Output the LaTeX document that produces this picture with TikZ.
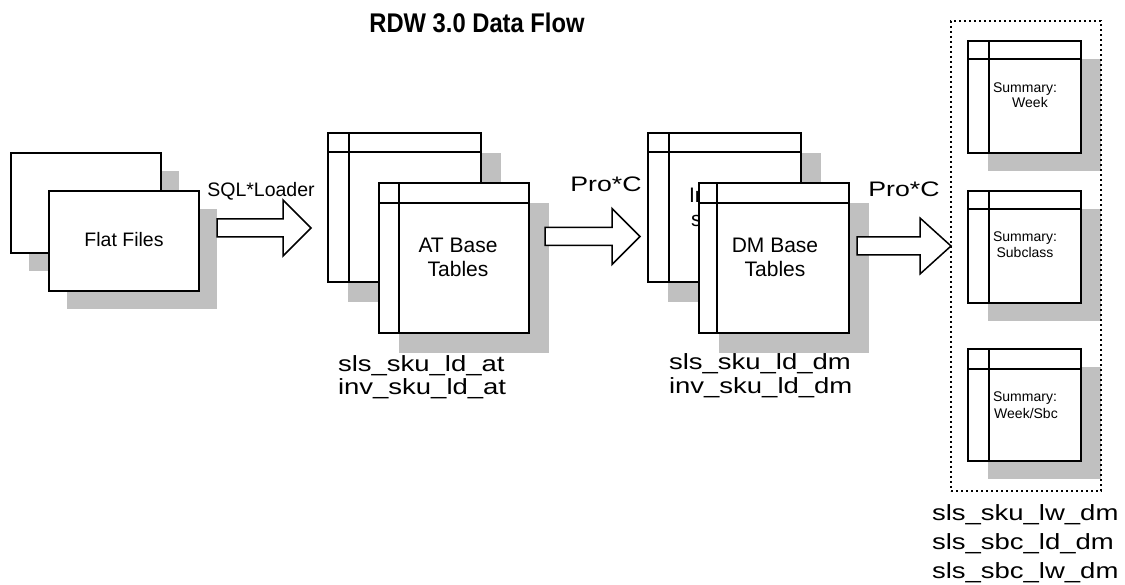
\documentclass[tikz,border=0pt]{standalone}
\usepackage{fontspec}
\setmainfont{Liberation Sans}
\newfontfamily\lblfont[FakeStretch=1.25]{Liberation Sans}
\newfontfamily\procfont[FakeStretch=1.27]{Liberation Sans}
\newfontfamily\ttlfont[FakeStretch=0.88]{Liberation Sans}
\usetikzlibrary{calc}
\definecolor{shadowgray}{HTML}{C0C0C0}
% table: name, x, y, w, h, header offset, vertical offset, shadow dx, shadow dy
\newcommand\dbtable[9]{%
  \fill[shadowgray] (#2+#8,#3+#9) rectangle ++(#4,#5);
  \node[box,minimum width=#4,minimum height=#5,anchor=north west] (#1) at (#2,#3) {};
  \draw[tline] ([yshift=-#6pt]#1.north west) -- ([yshift=-#6pt]#1.north east);
  \draw[tline] ([xshift=#7pt]#1.north west) -- ([xshift=#7pt]#1.south west);
}
% flat file: name, x, y
\newcommand\flatfile[3]{%
  \fill[shadowgray] (#2+18,#3+18) rectangle ++(150,100);
  \node[box,minimum width=150,minimum height=100,anchor=north west] (#1) at (#2,#3) {};
}
% block arrow: tail coordinate, tip coordinate, head length
\newcommand\blkarrow[3]{%
  \draw[blk] ($(#1)+(0,-9)$) -- ($(#2)+(-#3,-9)$) -- ($(#2)+(-#3,-28)$) -- (#2)
    -- ($(#2)+(-#3,28)$) -- ($(#2)+(-#3,9)$) -- ($(#1)+(0,9)$) -- cycle;
}
\begin{document}
\begin{tikzpicture}[x=1pt,y=-1pt,
  box/.style={draw,line width=2pt,fill=white,inner sep=0pt,outer sep=0pt,rectangle},
  tline/.style={line width=2pt},
  blk/.style={draw,line width=1.5pt,fill=white,line join=miter},
  txt/.style={inner sep=0pt,outer sep=0pt,anchor=base},
  lbl/.style={inner sep=0pt,outer sep=0pt,anchor=base west,font=\lblfont\fontsize{22}{24}\selectfont},
  boxtxt/.style={txt,font=\fontsize{21}{24}\selectfont},
  sumtxt/.style={txt,font=\fontsize{14}{16}\selectfont},
  proc/.style={txt,font=\procfont\fontsize{21}{24}\selectfont},
  group/.style={draw,line width=2pt,dash pattern=on 2pt off 3pt}
]
\useasboundingbox (0,0) rectangle (1125,585);

% title
\node[txt,font=\ttlfont\bfseries\fontsize{27}{30}\selectfont] (title) at (477,33) {RDW 3.0 Data Flow};

% flat files
\flatfile{ffback}{11}{153}
\flatfile{fffront}{49}{191}
\node[txt,font=\fontsize{19.5}{22}\selectfont] (fftxt) at (124,247) {Flat Files};

% AT tables
\dbtable{atback}{328}{133}{153}{149}{19}{21}{20}{20}
\dbtable{atfront}{379}{183}{150}{150}{20}{20}{20}{20}
\node[boxtxt] (attxt1) at (458,253) {AT Base};
\node[boxtxt] (attxt2) at (458,277) {Tables};

% DM tables
\dbtable{dmback}{648}{133}{153}{149}{19}{21}{20}{20}
\node[boxtxt,anchor=base west] (dmbtxt1) at (689,203) {In};
\node[boxtxt,anchor=base west] (dmbtxt2) at (691,227) {s};
\dbtable{dmfront}{699}{183}{150}{150}{20}{18}{20}{20}
\node[boxtxt] (dmtxt1) at (775,253) {DM Base};
\node[boxtxt] (dmtxt2) at (775,277) {Tables};

% summary tables
\dbtable{sum1}{968}{41}{113}{112}{18}{21}{20}{18}
\dbtable{sum2}{968}{191}{113}{112}{18}{21}{20}{18}
\dbtable{sum3}{968}{349}{113}{112}{20}{21}{20}{18}
\node[sumtxt] (s1a) at (1025,93) {Summary:};
\node[sumtxt] (s1b) at (1030,108) {Week};
\node[sumtxt] (s2a) at (1025,242) {Summary:};
\node[sumtxt] (s2b) at (1025,258) {Subclass};
\node[sumtxt] (s3a) at (1025,402) {Summary:};
\node[sumtxt] (s3b) at (1026,418) {Week/Sbc};
\node[group,inner sep=0pt,outer sep=0pt,minimum width=150,minimum height=470,anchor=north west] (grp) at (951,21) {};

% arrows
\coordinate (a1t) at (217,228);
\coordinate (a1h) at (311,228);
\coordinate (a2t) at (545,236.5);
\coordinate (a2h) at (640,236.5);
\coordinate (a3t) at (857,246);
\coordinate (a3h) at (951,246);
\blkarrow{a1t}{a1h}{28}
\blkarrow{a2t}{a2h}{28}
\blkarrow{a3t}{a3h}{31}
\node[txt,font=\fontsize{19.5}{22}\selectfont] (sql) at (261,197) {SQL*Loader};
\node[proc] (proc1) at (606,192) {Pro*C};
\node[proc] (proc2) at (904,197) {Pro*C};

% labels
\node[lbl] (lat1) at (338,371) {sls\_sku\_ld\_at};
\node[lbl] (lat2) at (338,395) {inv\_sku\_ld\_at};
\node[lbl] (ldm1) at (669,370) {sls\_sku\_ld\_dm};
\node[lbl] (ldm2) at (669,394) {inv\_sku\_ld\_dm};
\node[lbl] (lr1) at (932,520) {sls\_sku\_lw\_dm};
\node[lbl] (lr2) at (932,549) {sls\_sbc\_ld\_dm};
\node[lbl] (lr3) at (932,578) {sls\_sbc\_lw\_dm};
\end{tikzpicture}
\end{document}
